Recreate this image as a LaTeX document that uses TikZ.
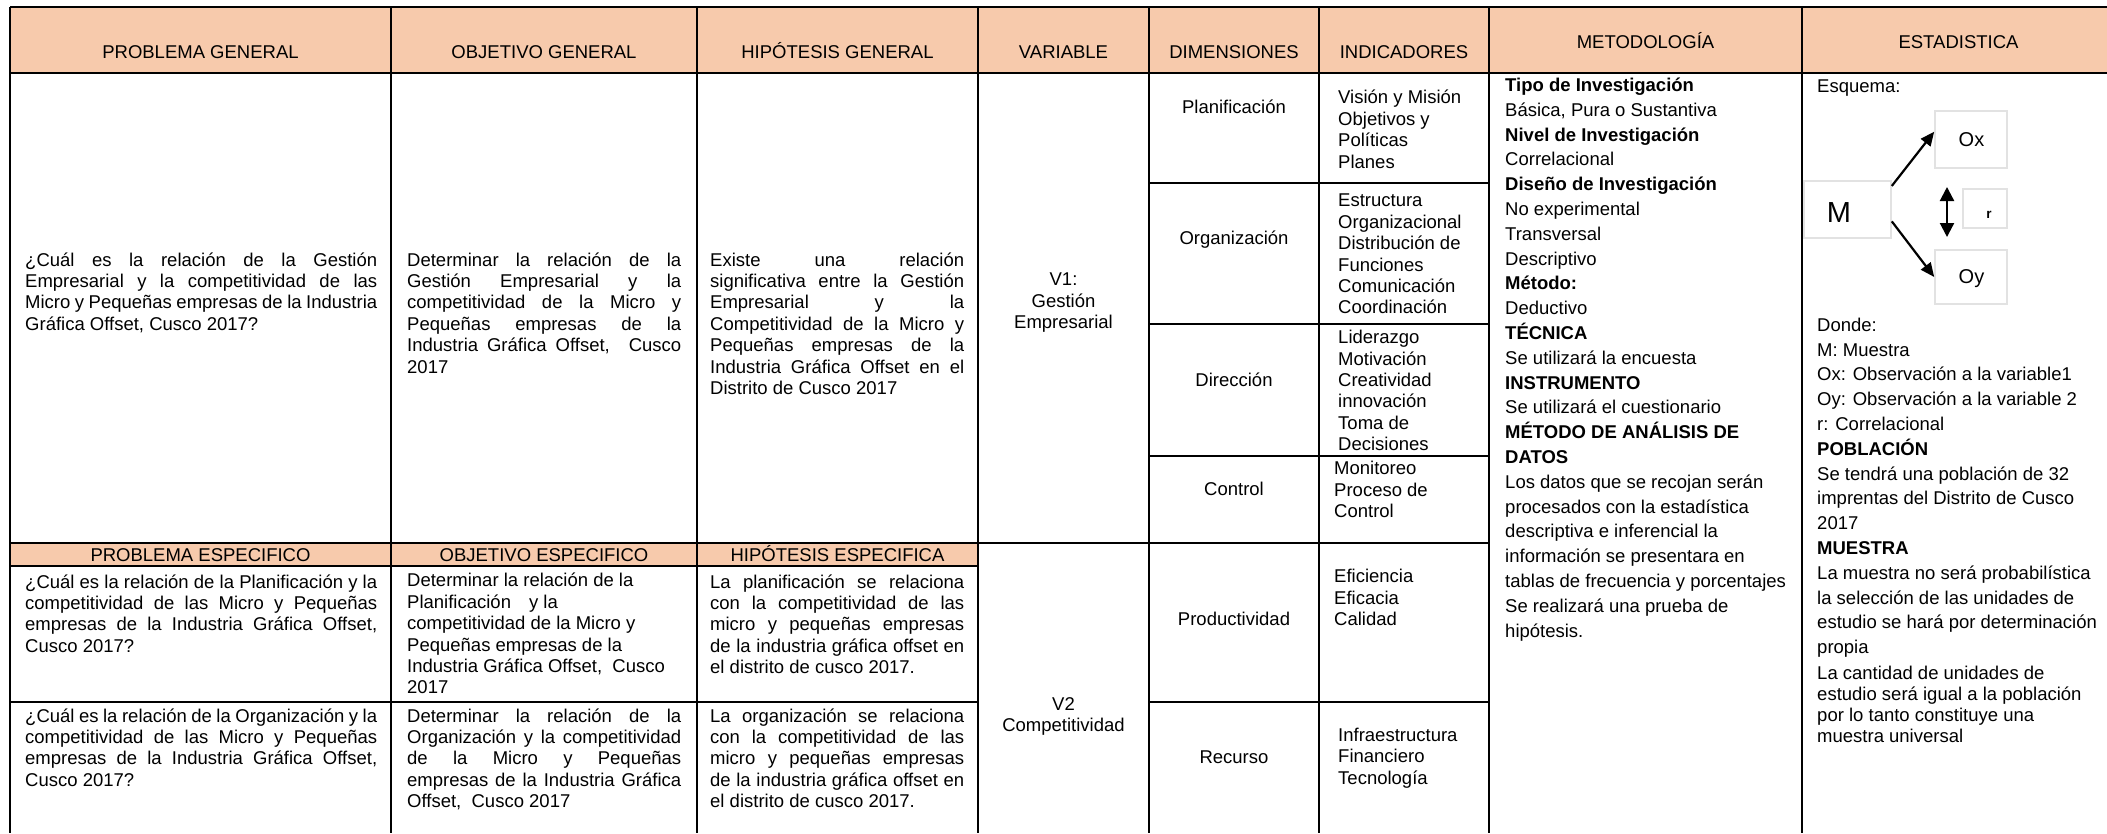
\documentclass[tikz,border=0pt]{standalone}
\usepackage{fontspec}
\setmainfont{Liberation Sans}
\usepackage{tikz}
\usetikzlibrary{arrows.meta}
\definecolor{cabecera}{HTML}{F7CAAC}
\definecolor{marco}{HTML}{E2E2E2}

\begin{document}
\begin{tikzpicture}[x=1pt, y=-1pt,
    rejilla/.style={line width=2.4pt},
    titulo/.style={font=\fontsize{18.5}{21.4}\selectfont, anchor=base, inner sep=0pt},
    celda/.style={font=\fontsize{18.5}{21.4}\selectfont, anchor=north west, inner sep=0pt,
        align=justify, execute at begin node={\tolerance=10000\hbadness=10000\strut}},
    lista/.style={font=\fontsize{18.5}{21.4}\selectfont, anchor=north west, inner sep=0pt,
        align=left, execute at begin node=\strut},
    metodo/.style={font=\fontsize{18.5}{24.8}\selectfont, anchor=north west, inner sep=0pt,
        align=left, execute at begin node=\strut},
    caja/.style={draw=marco, line width=1.6pt, inner sep=0pt},
    flecha/.style={line width=2.2pt, -{Triangle[length=14pt,width=12pt]}}]
  \useasboundingbox (0,0) rectangle (2107,833);

  % fondos de cabecera
  \fill[cabecera] (10,7) rectangle (2107,73);
  \fill[cabecera] (10,543) rectangle (978,566);

  % rejilla
  \foreach \x in {10,391,697,978,1149,1319,1489,1802}
    \draw[rejilla] (\x,7) -- (\x,833);
  \draw[rejilla] (10,7) -- (2107,7);
  \draw[rejilla] (10,73) -- (2107,73);
  \foreach \y in {183,324,456}
    \draw[rejilla] (1149,\y) -- (1489,\y);
  \draw[rejilla] (10,543) -- (1489,543);
  \draw[rejilla] (10,566) -- (978,566);
  \draw[rejilla] (10,702) -- (978,702);
  \draw[rejilla] (1149,702) -- (1489,702);

  % cabeceras
  \foreach \x/\n/\t in {200.5/prob/PROBLEMA GENERAL, 544/obj/OBJETIVO GENERAL,
      837.5/hip/HIPÓTESIS GENERAL, 1063.5/var/VARIABLE, 1234/dim/DIMENSIONES,
      1404/ind/INDICADORES}
    \node[titulo] (h\n) at (\x,58.6) {\t};
  \node[titulo] (hmet) at (1645.5,48.6) {METODOLOGÍA};
  \node[titulo] (hest) at (1958.5,48.6) {ESTADISTICA};
  \foreach \x/\n/\t in {200.5/prob/PROBLEMA ESPECIFICO, 544/obj/OBJETIVO ESPECIFICO,
      837.5/hip/HIPÓTESIS ESPECIFICA}
    \node[titulo] (e\n) at (\x,561.5) {\t};

  % fila general
  \node[celda, text width=352pt] (probGen) at (25,251)
    {¿Cuál es la relación de la Gestión\linebreak Empresarial y la competitividad de las\linebreak
     Micro y Pequeñas empresas de la Industria\linebreak Gráfica Offset, Cusco 2017?};
  \node[celda, text width=274pt] (objGen) at (407,251)
    {Determinar la relación de la\linebreak Gestión Empresarial y la\linebreak
     competitividad de la Micro y\linebreak Pequeñas empresas de la\linebreak
     Industria Gráfica Offset,~ Cusco\linebreak 2017};
  \node[celda, text width=254pt] (hipGen) at (710,251)
    {Existe una relación\linebreak significativa entre la Gestión\linebreak Empresarial y la\linebreak
     Competitividad de la Micro y\linebreak Pequeñas empresas de la\linebreak
     Industria Gráfica Offset en el\linebreak Distrito de Cusco 2017};

  % filas especificas
  \node[celda, text width=352pt] (probEsp1) at (25,573)
    {¿Cuál es la relación de la Planificación y la\linebreak competitividad de las Micro y Pequeñas\linebreak
     empresas de la Industria Gráfica Offset,\linebreak Cusco 2017?};
  \node[celda, text width=352pt] (probEsp2) at (25,707)
    {¿Cuál es la relación de la Organización y la\linebreak competitividad de las Micro y Pequeñas\linebreak
     empresas de la Industria Gráfica Offset,\linebreak Cusco 2017?};
  \node[lista] (objEsp1) at (407,573)
    {Determinar la relación de la\\ Planificación\hspace{18pt}y la\\ competitividad de la Micro y\\
     Pequeñas empresas de la\\ Industria Gráfica Offset,~ Cusco\\ 2017};
  \node[celda, text width=274pt] (objEsp2) at (407,707)
    {Determinar la relación de la\linebreak Organización y la competitividad\linebreak
     de la Micro y Pequeñas\linebreak empresas de la Industria Gráfica\linebreak Offset,~ Cusco 2017};
  \node[celda, text width=254pt] (hipEsp1) at (710,573)
    {La planificación se relaciona\linebreak con la competitividad de las\linebreak
     micro y pequeñas empresas\linebreak de la industria gráfica offset en\linebreak
     el distrito de cusco 2017.};
  \node[celda, text width=254pt] (hipEsp2) at (710,707)
    {La organización se relaciona\linebreak con la competitividad de las\linebreak
     micro y pequeñas empresas\linebreak de la industria gráfica offset en\linebreak
     el distrito de cusco 2017.};

  % variables
  \node[lista, align=center, anchor=north] (v1) at (1063.5,273) {V1:\\Gestión\\Empresarial};
  \node[lista, align=center, anchor=north] (v2) at (1063.5,697) {V2\\Competitividad};

  % dimensiones
  \foreach \y/\n/\t in {113.5/plan/Planificación, 244.5/orga/Organización, 386.5/dire/Dirección,
      495.5/cont/Control, 625.5/prod/Productividad, 763.5/recu/Recurso}
    \node[titulo] (d\n) at (1234,\y) {\t};

  % indicadores
  \node[lista] (i1) at (1338,90) {Visión y Misión\\Objetivos y\\Políticas\\Planes};
  \node[lista] (i2) at (1338,194)
    {Estructura\\Organizacional\\Distribución de\\Funciones\\Comunicación\\Coordinación};
  \node[lista] (i3) at (1338,330)
    {Liderazgo\\Motivación\\Creatividad\\innovación\\Toma de\\Decisiones};
  \node[lista] (i4) at (1334,461) {Monitoreo\\Proceso de\\Control};
  \node[lista] (i5) at (1334,569) {Eficiencia\\Eficacia\\Calidad};
  \node[lista] (i6) at (1338,728) {Infraestructura\\Financiero\\Tecnología};

  % metodologia
  \node[metodo] (met) at (1505,77.7)
    {\textbf{Tipo de Investigación}\\ Básica, Pura o Sustantiva\\ \textbf{Nivel de Investigación}\\
     Correlacional\\ \textbf{Diseño de Investigación}\\ No experimental\\ Transversal\\ Descriptivo\\
     \textbf{Método:}\\ Deductivo\\ \textbf{TÉCNICA}\\ Se utilizará la encuesta\\
     \textbf{INSTRUMENTO}\\ Se utilizará el cuestionario\\ \textbf{MÉTODO DE ANÁLISIS DE}\\
     \textbf{DATOS}\\ Los datos que se recojan serán\\ procesados con la estadística\\
     descriptiva e inferencial la\\ información se presentara en\\
     tablas de frecuencia y porcentajes\\ Se realizará una prueba de\\ hipótesis.};

  % estadistica
  \node[titulo, anchor=base west] (esq) at (1817,92.5) {Esquema:};
  \node[caja, minimum width=87pt, minimum height=57pt] (M) at (1847.5,209.5) {};
  \node[caja, minimum width=72pt, minimum height=57pt] (Ox) at (1971,139.5) {};
  \node[caja, minimum width=72pt, minimum height=54pt] (Oy) at (1971,277) {};
  \node[caja, minimum width=44pt, minimum height=39pt] (r) at (1985,208.5) {};
  \node[font=\fontsize{29}{32}\selectfont, inner sep=0pt] (tM) at (1839,212.5) {M};
  \node[font=\fontsize{20}{24}\selectfont, inner sep=0pt] (tOx) at (1971.5,139.5) {Ox};
  \node[font=\fontsize{20}{24}\selectfont, inner sep=0pt] (tOy) at (1971.5,279) {Oy};
  \node[font=\fontsize{13.5}{16}\selectfont\bfseries, inner sep=0pt] (tr) at (1989,214.5) {r};
  \draw[flecha] (M.28) -- (Ox.168);
  \draw[flecha] (M.-15) -- (Oy.west);
  \coordinate (rArriba) at (1947,187);
  \coordinate (rAbajo) at (1947,237);
  \draw[line width=2.2pt, {Triangle[length=14pt,width=14pt]}-{Triangle[length=14pt,width=14pt]}]
    (rArriba) -- (rAbajo);

  \node[metodo] (donde) at (1817,317.7)
    {Donde:\\ M: Muestra\\ Ox: Observación a la variable1\\ Oy: Observación a la variable 2\\
     r: Correlacional\\ \textbf{POBLACIÓN}\\ Se tendrá una población de 32\\
     imprentas del Distrito de Cusco\\ 2017\\ \textbf{MUESTRA}\\
     La muestra no será probabilística\\ la selección de las unidades de\\
     estudio se hará por determinación\\ propia};
  \node[lista, font=\fontsize{18.5}{21}\selectfont] (cantidad) at (1817,666)
    {La cantidad de unidades de\\ estudio será igual a la población\\
     por lo tanto constituye una\\ muestra universal};
\end{tikzpicture}
\end{document}
